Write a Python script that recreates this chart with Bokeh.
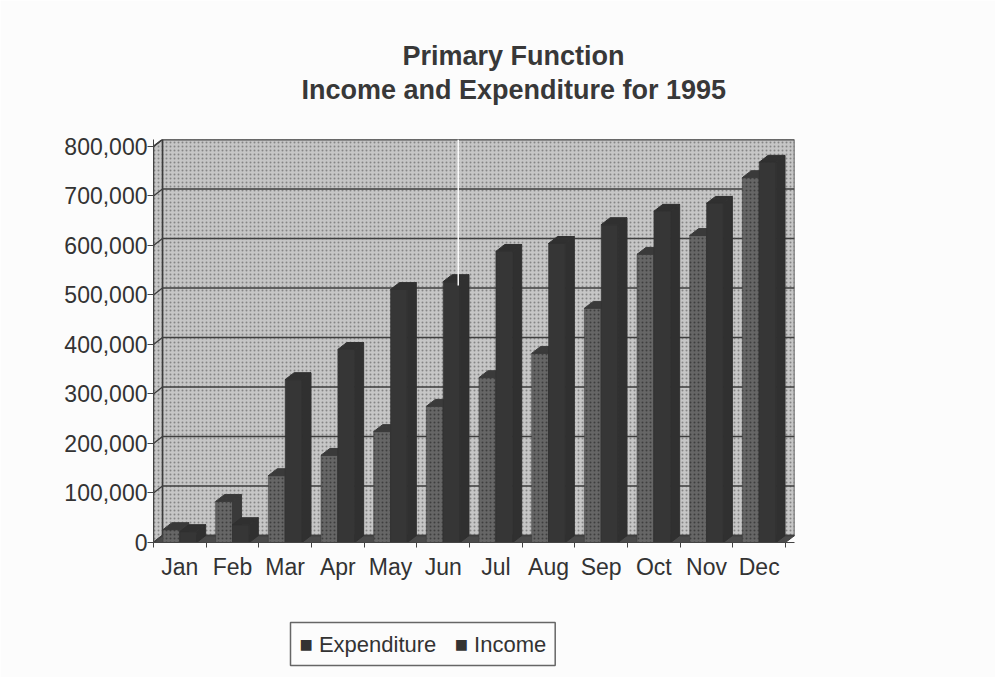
from bokeh.plotting import figure
from bokeh.embed import file_html
from bokeh.resources import INLINE
from bokeh.models import (Range1d, FixedTicker, NumeralTickFormatter, BoxAnnotation, Title)

months = ["Jan","Feb","Mar","Apr","May","Jun","Jul","Aug","Sep","Oct","Nov","Dec"]
expenditure = [26000,83000,135000,176000,224000,275000,333000,382000,473000,582000,620000,737000]
income = [22000,36000,329000,390000,511000,527000,588000,604000,642000,669000,685000,768000]
y_ticks = [0,100000,200000,300000,400000,500000,600000,700000,800000]
legend_labels = ["Expenditure", "Income"]

# 3-D projection of the chart box, in axis units
DX = 0.17
DY = 14000
YMAX = 814000
BAR_A, BAR_B, BAR_C = 0.18, 0.50, 0.82

p = figure(width=995, height=677, output_backend="svg", toolbar_location=None,
           x_range=Range1d(0, 12 + DX), y_range=Range1d(0, YMAX),
           min_border_left=153, min_border_right=201, min_border_top=139, min_border_bottom=135,
           background_fill_color="#fcfcfc", border_fill_color="#fcfcfc", outline_line_color=None)
p.grid.visible = False

WALL = dict(fill_color="#c6c6c6", hatch_pattern="dot", hatch_color="#858585", hatch_scale=4, hatch_weight=1)
# back wall, side wall, floor
p.quad(left=[DX], right=[12+DX], bottom=[DY], top=[800000+DY], line_color="#3c3c3c", line_width=1.5, **WALL)
p.patch([0,DX,DX,0],[0,DY,800000+DY,800000], line_color="#3c3c3c", line_width=1.5, **WALL)
p.patch([0,12,12+DX,DX],[0,0,DY,DY], fill_color="#4a4a4a", line_color="#3c3c3c", line_width=1)

# gridlines on side and back wall
p.multi_line([[0,DX,12+DX] for v in y_ticks], [[v,v+DY,v+DY] for v in y_ticks],
             line_color="#3f3f3f", line_width=1.4)

def bars(values, a, b, front, dark, **kw):
    lefts = [i+a for i in range(12)]
    rights = [i+b for i in range(12)]
    r = p.quad(left=lefts, right=rights, bottom=0, top=values, fill_color=front, line_color=dark, line_width=0.5, **kw)
    p.patches([[x, x+DX, x+DX, x] for x in rights],
              [[0, DY, v+DY, v] for v in values], fill_color=dark, line_color=dark)
    p.patches([[l, l+DX, x+DX, x] for l, x in zip(lefts, rights)],
              [[v, v+DY, v+DY, v] for v in values], fill_color=dark, line_color=dark)
    return r

EXP_FRONT, EXP_DARK, INC_FRONT, INC_DARK = "#666666", "#3a3a3a", "#363636", "#303030"
bars(expenditure, BAR_A, BAR_B, EXP_FRONT, EXP_DARK, hatch_pattern="dot", hatch_color="#3e3e3e", hatch_scale=4, hatch_weight=1)
bars(income, BAR_B, BAR_C, INC_FRONT, INC_DARK)

# axes
FONT = "Liberation Sans"
xa = p.xaxis[0]
xa.ticker = FixedTicker(ticks=[i+0.5 for i in range(12)], minor_ticks=list(range(13)))
xa.major_label_overrides = {i+0.5: m for i, m in enumerate(months)}
xa.major_tick_out = 0; xa.major_tick_in = 0
xa.minor_tick_out = 5; xa.minor_tick_in = 0
xa.minor_tick_line_color = "#444444"
xa.axis_line_color = "#444444"
xa.major_label_standoff = 6
ya = p.yaxis[0]
ya.ticker = FixedTicker(ticks=y_ticks)
ya.formatter = NumeralTickFormatter(format="0,0")
ya.major_tick_out = 6; ya.major_tick_in = 0
ya.major_tick_line_color = "#444444"
ya.minor_tick_line_color = None
ya.axis_line_color = "#444444"
ya.major_label_standoff = 0
for a in (xa, ya):
    a.major_label_text_font = FONT
    a.major_label_text_font_size = "23px"
    a.major_label_text_color = "#333333"

# title lines, stacked upward from the frame above a blank spacer
p.add_layout(Title(text="\u00a0", text_font_size="1px", standoff=31), "above")
for txt, off in (("Income and Expenditure for 1995", 148), ("Primary Function", 249)):
    p.add_layout(Title(text=txt, align="left", offset=off, standoff=2, text_font=FONT, text_font_size="27px",
                       text_font_style="bold", text_color="#383838"), "above")

# legend: boxed text row in its own panel below the month axis
p.add_layout(Title(text="\u00a0", text_font_size="1px", standoff=35), "below")
gap = "\u00a0"
legend_text = f"\u25a0{gap}{legend_labels[0]}{gap*3}\u25a0{gap}{legend_labels[1]}"
p.add_layout(Title(text=legend_text, align="left", offset=137, standoff=0, text_font=FONT, text_font_size="22px",
                   text_font_style="normal", text_color="#333333", padding=9, border_line_color="#666666",
                   border_line_width=1.5, background_fill_color="#fcfcfc"), "below")

# scan artefact: white crease
p.add_layout(BoxAnnotation(left=304, right=305.5, top=403, bottom=257, left_units="screen", right_units="screen",
                           top_units="screen", bottom_units="screen", fill_color="#ffffff", fill_alpha=0.95, line_color=None))

open("out.html", "w").write(file_html(p, INLINE))
